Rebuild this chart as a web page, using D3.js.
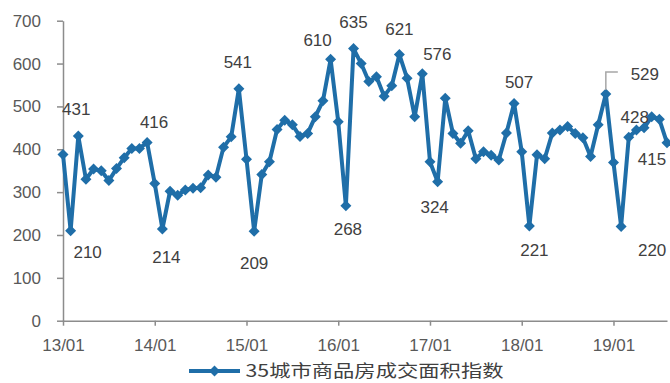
<!DOCTYPE html>
<html>
<head>
<meta charset="utf-8">
<script src="https://cdn.jsdelivr.net/npm/d3@7/dist/d3.min.js"></script>
<style>
  html, body { margin: 0; padding: 0; background: #fff; }
  svg { display: block; }
</style>
</head>
<body>
<svg id="chart" width="670" height="383"></svg>
<script>
// Monthly index, Jan 2013 – Aug 2019
const values = [
  388, 210, 431, 330, 354, 350, 327, 355, 380, 402, 402, 416,
  320, 214, 302, 293, 305, 309, 310, 340, 335, 405, 429, 541,
  377, 209, 341, 371, 446, 468, 457, 430, 437, 476, 513, 610,
  464, 268, 635, 600, 558, 569, 524, 548, 621, 566, 476, 576,
  371, 324, 519, 437, 414, 443, 378, 394, 386, 375, 438, 507,
  394, 221, 387, 378, 438, 445, 453, 437, 427, 383, 457, 529,
  369, 220, 428, 445, 450, 476, 470, 415
];
const seriesName = "35城市商品房成交面积指数";
const xTickLabels = ["13/01", "14/01", "15/01", "16/01", "17/01", "18/01", "19/01"];
const yTicks = [0, 100, 200, 300, 400, 500, 600, 700];

// Which points carry a value label, and where the label sits relative to the point
const labelled = [
  { i: 1, dx: 17, dy: 27 }, { i: 2, dx: -2, dy: -21 },
  { i: 11, dx: 7, dy: -14 }, { i: 13, dx: 4, dy: 34 },
  { i: 23, dx: -1, dy: -21 }, { i: 25, dx: 0, dy: 38 },
  { i: 35, dx: -13, dy: -13 }, { i: 37, dx: 2, dy: 29 },
  { i: 38, dx: 0, dy: -21 }, { i: 44, dx: 0, dy: -20 },
  { i: 47, dx: 15, dy: -14 }, { i: 49, dx: -3, dy: 31 },
  { i: 59, dx: 5, dy: -15 }, { i: 61, dx: 5, dy: 30 },
  { i: 71, dx: 39, dy: -14, leader: true }, { i: 73, dx: 31, dy: 30 },
  { i: 74, dx: 6, dy: -14 }, { i: 79, dx: -15, dy: 22 }
];

const lineColor = "#1f6ea8";
const axisColor = "#8c8c8c";
const numFont = "'Liberation Sans', Arial, sans-serif";

const svg = d3.select("#chart");
const plotLeft = 63, plotRight = 667, plotTop = 20.7, plotBottom = 320.7;

const x = d3.scaleLinear().domain([0, values.length - 1]).range([plotLeft, plotRight]);
const y = d3.scaleLinear().domain([0, 700]).range([plotBottom, plotTop]);

// Y axis
const yAxis = svg.append("g")
  .attr("transform", `translate(${plotLeft},0)`)
  .call(d3.axisLeft(y).tickValues(yTicks).tickSize(6).tickSizeOuter(0).tickPadding(16));
yAxis.select(".domain").attr("stroke", axisColor).attr("stroke-width", 1.5);
yAxis.selectAll(".tick line").attr("stroke", axisColor).attr("stroke-width", 1.5);
yAxis.selectAll(".tick text")
  .attr("fill", "#595959").attr("font-family", numFont).attr("font-size", 17);

// X axis: one tick per January
const xTickIdx = xTickLabels.map((_, k) => k * 12);
const xAxis = svg.append("g")
  .attr("transform", `translate(0,${plotBottom})`)
  .call(d3.axisBottom(x).tickValues(xTickIdx)
    .tickFormat((d, k) => xTickLabels[k]).tickSize(5).tickSizeOuter(0).tickPadding(13));
xAxis.select(".domain").attr("stroke", axisColor).attr("stroke-width", 1.5);
xAxis.selectAll(".tick line").attr("stroke", axisColor).attr("stroke-width", 1.5);
xAxis.selectAll(".tick text")
  .attr("fill", "#595959").attr("font-family", numFont).attr("font-size", 17);

// Series line
const line = d3.line().x((d, i) => x(i)).y(d => y(d));
svg.append("path")
  .datum(values)
  .attr("fill", "none")
  .attr("stroke", lineColor)
  .attr("stroke-width", 4)
  .attr("stroke-linejoin", "round")
  .attr("d", line);

// Diamond markers
const diamond = r => `M0,${-r}L${r},0L0,${r}L${-r},0Z`;
svg.append("g").selectAll("path")
  .data(values)
  .join("path")
  .attr("transform", (d, i) => `translate(${x(i)},${y(d)})`)
  .attr("d", diamond(5.5))
  .attr("fill", lineColor);

// Leader line for the offset label
labelled.filter(l => l.leader).forEach(l => {
  const px = x(l.i), py = y(values[l.i]);
  svg.append("path")
    .attr("d", `M${px},${py - 4}V${py - 22}H${px + 12}`)
    .attr("fill", "none")
    .attr("stroke", "#a6a6a6")
    .attr("stroke-width", 1.5);
});

// Value labels
svg.append("g").selectAll("text")
  .data(labelled)
  .join("text")
  .attr("x", l => x(l.i) + l.dx)
  .attr("y", l => y(values[l.i]) + l.dy)
  .attr("text-anchor", "middle")
  .attr("font-family", numFont)
  .attr("font-size", 17)
  .attr("fill", "#404040")
  .text(l => values[l.i]);

// Legend
const lg = svg.append("g").attr("transform", "translate(0,371)");
lg.append("line")
  .attr("x1", 189).attr("x2", 240).attr("y1", 0).attr("y2", 0)
  .attr("stroke", lineColor).attr("stroke-width", 4);
lg.append("path")
  .attr("transform", "translate(214.5,0)")
  .attr("d", diamond(5.5))
  .attr("fill", lineColor);
lg.append("text")
  .attr("x", 245.5).attr("y", 6)
  .attr("font-family", "'Noto Sans CJK SC', sans-serif")
  .attr("font-size", 17)
  .attr("fill", "#404040")
  .attr("textLength", 258)
  .attr("lengthAdjust", "spacingAndGlyphs")
  .text(seriesName);
</script>
</body>
</html>
